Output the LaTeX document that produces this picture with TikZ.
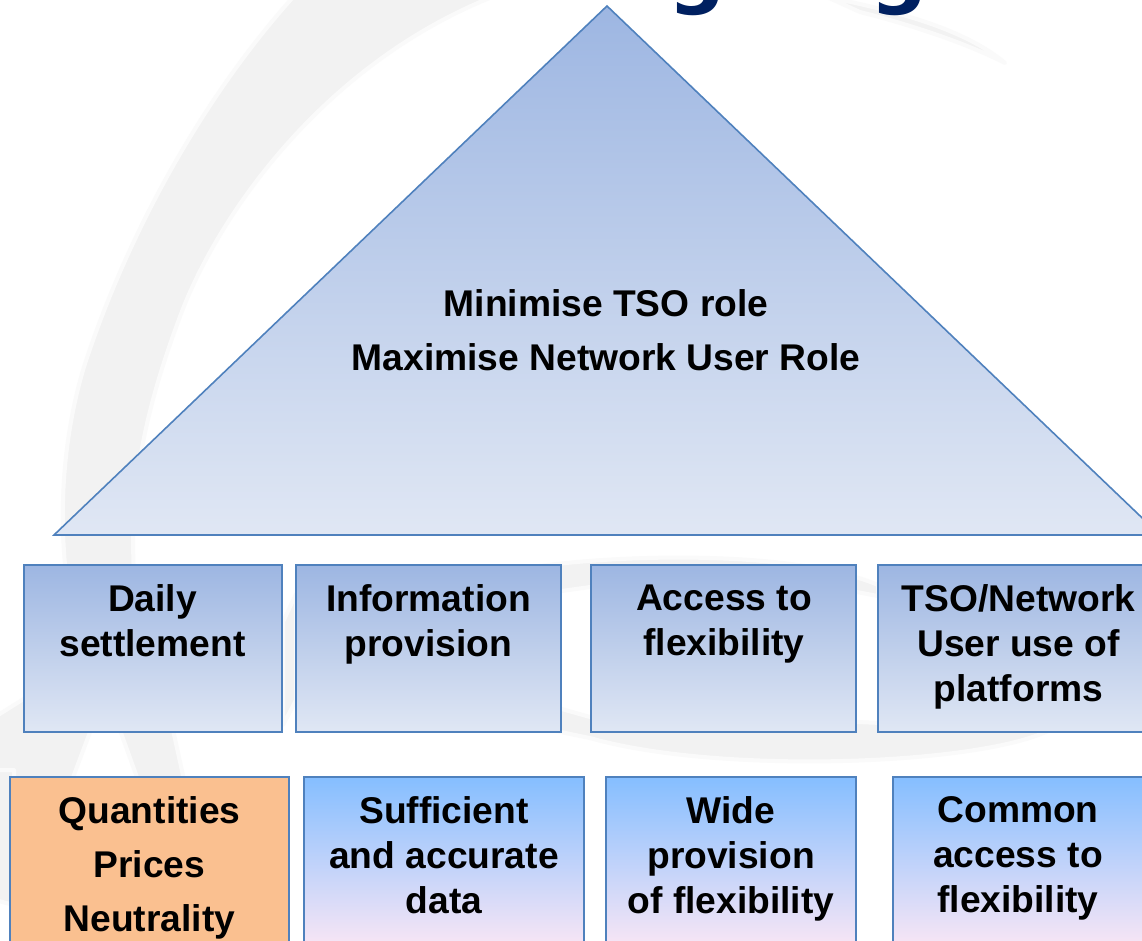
\documentclass[tikz,border=0pt]{standalone}
\usepackage{fontspec}
\setmainfont{Liberation Sans}
\newfontfamily\titlefont{DejaVu Sans}
\definecolor{edge}{HTML}{4F81BD}
\definecolor{blueA}{HTML}{9DB6E2}
\definecolor{blueB}{HTML}{E0E7F4}
\definecolor{skyA}{HTML}{85BEFF}
\definecolor{skyB}{HTML}{F9E6F5}
\definecolor{peach}{HTML}{FAC090}
\definecolor{navy}{HTML}{002060}
\definecolor{mark}{HTML}{F2F2F2}
\definecolor{marksoft}{HTML}{FAFAFA}
\tikzset{
  x=0.75pt,y=-0.75pt,
  wm/.style={fill=mark,draw=marksoft,line width=3pt,line join=round},
  bx/.style n args={2}{draw=edge,line width=1.4pt,inner sep=0pt,outer sep=0pt,minimum width=#1*0.75pt,minimum height=#2*0.75pt},
  upper/.style={top color=blueA,bottom color=blueB},
  lower/.style={top color=skyA,bottom color=skyB},
  orange/.style={fill=peach},
  lab/.style={anchor=north,align=center,inner sep=0pt,text=black,font=\fontsize{27.9}{33.75}\selectfont\bfseries,execute at begin node={\rule{0pt}{22pt}}},
  labwide/.style={lab,font=\fontsize{27.9}{40.5}\selectfont\bfseries},
  titleg/.style={anchor=base,inner sep=0pt,text=navy,font=\titlefont\bfseries\fontsize{60}{60}\selectfont}
}
\begin{document}
\begin{tikzpicture}
\useasboundingbox (0,0) rectangle (1142,941);
\clip (0,0) rectangle (1142,941);
\fill[white] (0,0) rectangle (1142,941);
% watermark
\path[wm] (295,-5) .. controls (200,100) and (125,240) .. (84,367) .. controls (62,440) and (58,520) .. (68,590) -- (135,590) .. controls (128,500) and (140,420) .. (184,306) .. controls (225,205) and (330,60) .. (497,-5) -- cycle;
\path[wm] (827,-3) .. controls (880,8) and (960,25) .. (1005,63) .. controls (960,40) and (900,22) .. (860,12) -- cycle;
\path[wm] (540,566) .. controls (640,553) and (800,552) .. (878,585) -- (878,596) -- (857,592) -- (590,587) -- (540,594) -- cycle;
\path[wm] (540,703) -- (590,717) -- (857,722) -- (1050,730) .. controls (980,765) and (720,775) .. (590,738) .. controls (570,734) and (550,730) .. (540,726) -- cycle;
\path[wm] (-5,717) -- (30,695) -- (90,732) -- (72,780) -- (-5,780) -- cycle;
\path[wm] (120,730) -- (173,730) -- (184,780) -- (138,780) -- cycle;
\path[wm] (-5,770) -- (14,770) -- (14,905) -- (-5,900) -- cycle;
\path[wm] (283,622) -- (296,594) -- (296,700) -- (283,725) -- cycle;
% title fragments
\node[titleg] (titleA) at (697,-1) {g};
\node[titleg] (titleB) at (899,-1) {g};
% triangle
\coordinate (apex) at (607,6);
\coordinate (baseL) at (54,535);
\coordinate (baseR) at (1160,535);
\draw[edge,line width=1.2pt,upper,line join=miter] (apex) -- (baseL) -- (baseR) -- cycle;
\node[labwide] (goal) at (606,289.7) {Minimise TSO role\\Maximise Network User Role};
% upper row
\node[bx={258}{167},upper] (b1) at (153,648.5) {};
\node[bx={265}{167},upper] (b2) at (428.5,648.5) {};
\node[bx={265}{167},upper] (b3) at (723.5,648.5) {};
\node[bx={280}{167},upper] (b4) at (1018,648.5) {};
\node[lab] (t1) at (152.5,584.7) {Daily\\settlement};
\node[lab] (t2) at (428.5,584.7) {Information\\provision};
\node[lab] (t3) at (724,584.7) {Access to\\flexibility};
\node[lab] (t4) at (1018.5,584.7) {TSO/Network\\User use of\\platforms};
% lower row
\node[bx={279}{170},orange] (c1) at (149.5,862) {};
\node[bx={280}{170},lower] (c2) at (444,862) {};
\node[bx={250}{170},lower] (c3) at (731,862) {};
\node[bx={266}{170},lower] (c4) at (1026,862) {};
\node[labwide] (u1) at (149.5,796.7) {Quantities\\Prices\\Neutrality};
\node[lab] (u2) at (444,796.7) {Sufficient\\and accurate\\data};
\node[lab] (u3) at (731,796.7) {Wide\\provision\\of flexibility};
\node[lab] (u4) at (1018,796.7) {Common\\access to\\flexibility};
\end{tikzpicture}
\end{document}
